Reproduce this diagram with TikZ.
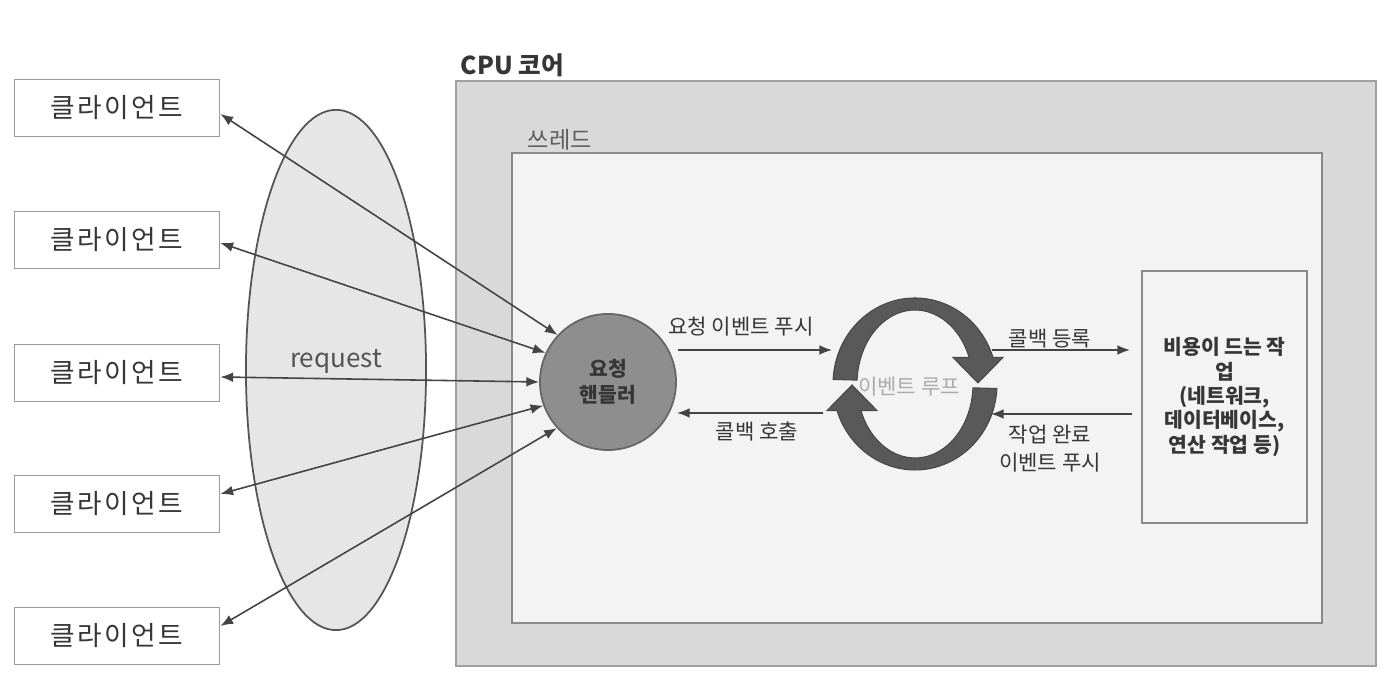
\documentclass[tikz,border=0pt]{standalone}
\usepackage{fontspec}
\setmainfont{Noto Sans CJK KR}
\newfontfamily\spacedfont[LetterSpace=9]{Noto Sans CJK KR}
\usetikzlibrary{arrows.meta,shapes.geometric}
\definecolor{outerfill}{HTML}{D9D9D9}
\definecolor{outerline}{HTML}{A0A0A0}
\definecolor{innerfill}{HTML}{F3F3F3}
\definecolor{innerline}{HTML}{8A8A8A}
\definecolor{ellfill}{HTML}{E6E6E6}
\definecolor{ellline}{HTML}{555555}
\definecolor{hfill}{HTML}{8E8E8E}
\definecolor{hline}{HTML}{666666}
\definecolor{loopc}{HTML}{595959}
\definecolor{txt}{HTML}{363636}
\definecolor{lin}{HTML}{444444}
\definecolor{boxline}{HTML}{9A9A9A}
\definecolor{looptxt}{HTML}{ABABAB}
\begin{document}
\begin{tikzpicture}[x=0.01cm,y=0.01cm,
  client/.style={draw=boxline, fill=white, line width=0.5pt, minimum width=2.05cm, minimum height=0.57cm, inner sep=0pt, font=\spacedfont\fontsize{7.6}{9}\selectfont, text=txt},
  arr/.style={-{Latex[length=3.6pt,width=2.8pt]}, line width=0.45pt, draw=lin},
  biarr/.style={{Latex[length=3.6pt,width=2.8pt]}-{Latex[length=3.6pt,width=2.8pt]}, line width=0.45pt, draw=lin},
  lbl/.style={font=\fontsize{6}{7.4}\selectfont, text=txt, inner sep=0pt},
  loopshape/.style={fill=loopc, draw=loopc!80!black, line width=0.3pt}
]
\useasboundingbox (0,0) rectangle (1400,683);
\fill[white] (0,0) rectangle (1400,683);

% CPU core and thread
\node[draw=outerline, fill=outerfill, line width=0.6pt, minimum width=9.2cm, minimum height=5.85cm, inner sep=0pt] (cpu) at (916,309.5) {};
\node[draw=innerline, fill=innerfill, line width=0.6pt, minimum width=8.1cm, minimum height=4.7cm, inner sep=0pt] (thread) at (917,295) {};
\node[font=\bfseries\fontsize{7}{8}\selectfont, text=txt, anchor=west, inner sep=0pt] (cpulbl) at (460,618) {CPU 코어};
\node[font=\fontsize{6.6}{8}\selectfont, text=txt!80, anchor=west, inner sep=0pt] (thrlbl) at (527,543) {쓰레드};

% request ellipse
\node[draw=ellline, fill=ellfill, line width=0.5pt, ellipse, minimum width=1.8cm, minimum height=5.2cm, inner sep=0pt] (req) at (336,313) {};
\node[font=\fontsize{7.4}{9}\selectfont, text=txt!85, inner sep=0pt] (reqlbl) at (336,322) {request};

% clients
\node[client] (c1) at (117,575) {클라이언트};
\node[client] (c2) at (117,443) {클라이언트};
\node[client] (c3) at (117,310) {클라이언트};
\node[client] (c4) at (117,179) {클라이언트};
\node[client] (c5) at (117,47) {클라이언트};

% request handler
\node[circle, draw=hline, fill=hfill, line width=0.5pt, minimum size=1.36cm, inner sep=0pt, align=center, font=\bfseries\fontsize{5.8}{7.2}\selectfont, text=txt] (h) at (608,301) {요청\\핸들러};

% client connectors
\draw[biarr] ([yshift=-0.06cm]c1.east) -- (h.137);
\draw[biarr] ([yshift=-0.03cm]c2.east) -- (h.155);
\draw[biarr] ([yshift=-0.04cm]c3.east) -- (h.180);
\draw[biarr] ([yshift=0.1cm]c4.east) -- (h.200);
\draw[biarr] ([yshift=0.1cm]c5.east) -- (h.222);

% event loop arrows
\fill[loopshape] (833.1,303.5) arc[start angle=177, end angle=18, x radius=82, y radius=86]
  -- (1003,325.6) -- (978,300) -- (953,325.6) -- (969.1,325.6)
  arc[start angle=21.07, end angle=177, x radius=58, y radius=74] -- cycle;
\fill[loopshape] (996.9,294.5) arc[start angle=-3, end angle=-162, x radius=82, y radius=86]
  -- (827,272.4) -- (852,298) -- (877,272.4) -- (860.9,272.4)
  arc[start angle=-158.93, end angle=-3, x radius=58, y radius=74] -- cycle;
\node[font=\fontsize{6}{7}\selectfont, text=looptxt, inner sep=0pt] (loop) at (909,296) {이벤트 루프};

% job box
\node[draw=innerline, fill=innerfill, line width=0.5pt, minimum width=1.65cm, minimum height=2.52cm, inner sep=0pt, align=center, font=\bfseries\fontsize{5.8}{6.9}\selectfont, text=txt] (job) at (1224.5,286) {비용이 드는 작\\업\\(네트워크,\\데이터베이스,\\연산 작업 등)};

% horizontal arrows
\coordinate (a1s) at (678,333);
\coordinate (a1e) at (832,333);
\coordinate (a2s) at (823,270);
\coordinate (a2e) at (677,270);
\coordinate (a3s) at (992,333);
\coordinate (a3e) at (1130,333);
\coordinate (a4s) at (1132,269);
\coordinate (a4e) at (991,269);
\draw[arr] (a1s) -- (a1e);
\draw[arr] (a2s) -- (a2e);
\draw[arr] (a3s) -- (a3e);
\draw[arr] (a4s) -- (a4e);
\node[lbl] (l1) at (741,356) {요청 이벤트 푸시};
\node[lbl] (l2) at (757,251) {콜백 호출};
\node[lbl] (l3) at (1050,344) {콜백 등록};
\node[lbl, align=center, font=\fontsize{6}{8}\selectfont] (l4) at (1050,234) {작업 완료\\이벤트 푸시};
\end{tikzpicture}
\end{document}
